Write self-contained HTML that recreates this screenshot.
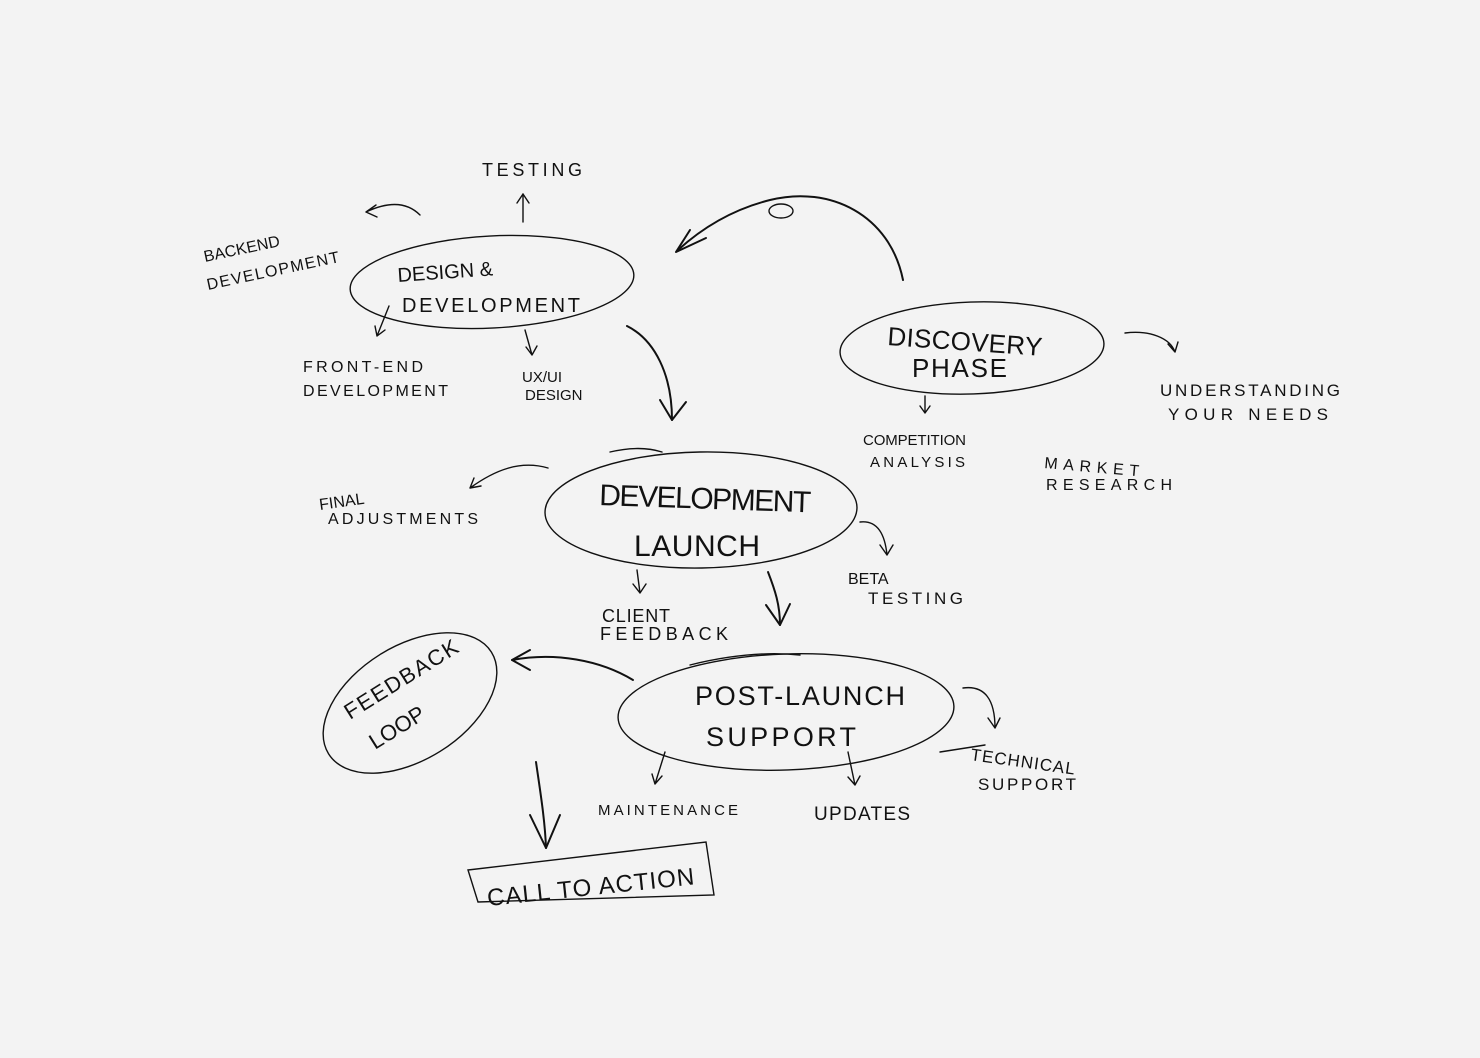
<!DOCTYPE html>
<html><head><meta charset="utf-8">
<style>
html,body{margin:0;padding:0;background:#f3f3f3;}
svg{display:block}
text{font-family:"Liberation Sans",sans-serif;fill:#111;text-transform:uppercase;}
</style></head>
<body>
<svg width="1480" height="1058" viewBox="0 0 1480 1058" xmlns="http://www.w3.org/2000/svg">
<rect width="1480" height="1058" fill="#f3f3f3"/>
<g fill="none" stroke="#111" stroke-width="1.4" stroke-linecap="round">
 <!-- ellipses -->
 <ellipse cx="492" cy="282" rx="142" ry="46" transform="rotate(-3 492 282)"/>
 <ellipse cx="972" cy="348" rx="132" ry="46" transform="rotate(-2 972 348)"/>
 <ellipse cx="701" cy="510" rx="156" ry="58" transform="rotate(-1 701 510)"/>
 <ellipse cx="786" cy="712" rx="168" ry="58" transform="rotate(-2 786 712)"/>
 <ellipse cx="410" cy="703" rx="96" ry="57" transform="rotate(-32 410 703)"/>
 <path d="M468 870 L706 842 L714 895 L478 902 Z"/>
 <path d="M610 452 Q640 445 662 452"/>
 <path d="M690 665 Q750 650 800 655"/>
 <!-- big arrows -->
 <path d="M903 280 C890 215 830 185 770 200 C730 210 700 230 678 250" stroke-width="2"/>
 <path d="M676 252 L690 230 M676 252 L706 238" stroke-width="2"/>
 <ellipse cx="781" cy="211" rx="12" ry="7"/>
 <path d="M627 326 C655 340 672 375 672 420" stroke-width="2"/>
 <path d="M672 420 L660 400 M672 420 L686 402" stroke-width="2"/>
 <path d="M768 572 C775 590 780 605 780 625" stroke-width="2"/>
 <path d="M780 625 L766 605 M780 625 L790 604" stroke-width="2"/>
 <path d="M633 680 C600 660 555 652 512 660" stroke-width="2"/>
 <path d="M512 660 L530 650 M512 660 L530 670" stroke-width="2"/>
 <path d="M536 762 C540 790 545 820 546 848" stroke-width="2"/>
 <path d="M546 848 L530 815 M546 848 L560 815" stroke-width="2"/>
 <!-- small arrows -->
 <path d="M420 215 C405 200 385 203 366 212 M366 212 L376 205 M366 212 L377 217"/>
 <path d="M523 222 L523 194 M523 194 L517 203 M523 194 L529 203"/>
 <path d="M389 306 L377 336 M377 336 L375 326 M377 336 L385 330"/>
 <path d="M525 330 L532 355 M532 355 L526 347 M532 355 L537 346"/>
 <path d="M1125 333 C1150 330 1170 338 1175 352 M1175 352 L1168 344 M1175 352 L1178 342"/>
 <path d="M925 396 L925 413 M925 413 L920 406 M925 413 L930 406"/>
 <path d="M548 468 C520 460 495 470 470 488 M470 488 L481 486 M470 488 L474 478"/>
 <path d="M860 522 C878 520 885 535 887 555 M887 555 L880 545 M887 555 L893 545"/>
 <path d="M637 570 L640 593 M640 593 L633 584 M640 593 L646 584"/>
 <path d="M963 688 C985 685 995 700 995 728 M995 728 L988 718 M995 728 L1000 718"/>
 <path d="M665 752 L655 784 M655 784 L652 774 M655 784 L662 776"/>
 <path d="M848 752 L855 785 M855 785 L848 777 M855 785 L860 776"/>
 <path d="M940 752 L985 745"/>
</g>
<g>
 <text x="482" y="176" font-size="18" textLength="100">Testing</text>
 <text x="205" y="262" font-size="16" transform="rotate(-12 205 262)">Backend</text>
 <text x="208" y="290" font-size="16" transform="rotate(-12 208 290)" textLength="135">Development</text>
 <text x="398" y="282" font-size="20" transform="rotate(-4 398 282)">Design &amp;</text>
 <text x="402" y="312" font-size="20" textLength="178">Development</text>
 <text x="303" y="372" font-size="16" textLength="120">Front-End</text>
 <text x="303" y="396" font-size="16" textLength="145">Development</text>
 <text x="522" y="382" font-size="15">UX/UI</text>
 <text x="525" y="400" font-size="15">Design</text>
 <text x="887" y="345" font-size="26" textLength="155" transform="rotate(4 887 345)">Discovery</text>
 <text x="912" y="377" font-size="26" textLength="95">Phase</text>
 <text x="1160" y="396" font-size="17" textLength="180">Understanding</text>
 <text x="1168" y="420" font-size="17" textLength="160">Your Needs</text>
 <text x="863" y="445" font-size="15" textLength="103">Competition</text>
 <text x="870" y="467" font-size="15" textLength="95">Analysis</text>
 <text x="1044" y="468" font-size="16" textLength="95" transform="rotate(5 1044 468)">Market</text>
 <text x="1046" y="490" font-size="16" textLength="126">Research</text>
 <text x="599" y="505" font-size="30" textLength="212" transform="rotate(2 599 505)">Development</text>
 <text x="634" y="556" font-size="30" textLength="126">Launch</text>
 <text x="320" y="510" font-size="16" transform="rotate(-8 320 510)">Final</text>
 <text x="328" y="524" font-size="16" textLength="150">Adjustments</text>
 <text x="848" y="584" font-size="16">Beta</text>
 <text x="868" y="604" font-size="17" textLength="95">Testing</text>
 <text x="602" y="622" font-size="18" textLength="68">Client</text>
 <text x="600" y="640" font-size="18" textLength="128">Feedback</text>
 <text x="695" y="705" font-size="27" textLength="210">Post-Launch</text>
 <text x="706" y="746" font-size="27" textLength="150">Support</text>
 <text x="350" y="720" font-size="22" textLength="130" transform="rotate(-32 350 720)">Feedback</text>
 <text x="375" y="750" font-size="22" transform="rotate(-32 375 750)">Loop</text>
 <text x="598" y="815" font-size="15" textLength="140">Maintenance</text>
 <text x="814" y="820" font-size="19" textLength="96">Updates</text>
 <text x="970" y="760" font-size="17" textLength="105" transform="rotate(8 970 760)">Technical</text>
 <text x="978" y="790" font-size="17" textLength="98">Support</text>
 <text x="488" y="906" font-size="24" textLength="208" transform="rotate(-6 488 906)">Call to Action</text>
</g>
</svg>
</body></html>
